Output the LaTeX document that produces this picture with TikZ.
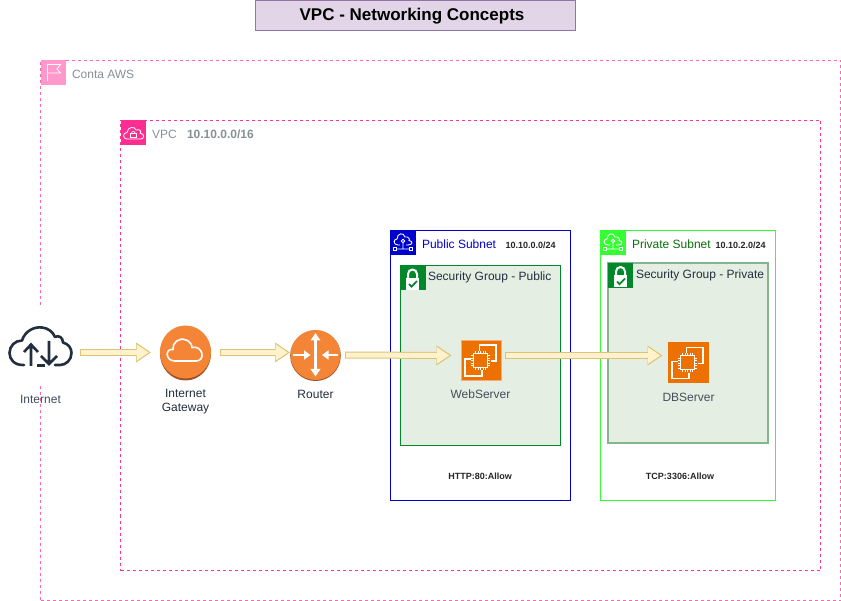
\documentclass[tikz,border=0pt]{standalone}
\usepackage{fontspec}
\setmainfont{Liberation Sans}
\usetikzlibrary{arrows.meta,calc}
\definecolor{navy}{HTML}{232F3E}
\definecolor{awsgray}{HTML}{879196}
\definecolor{sgfill}{HTML}{E4EEE2}
\definecolor{sggreen}{HTML}{00882B}
\definecolor{orangeigw}{HTML}{F58536}
\definecolor{orangedark}{HTML}{9D5025}
\definecolor{ecfill}{HTML}{ED7100}
\definecolor{ecedge}{HTML}{F5AE78}
\definecolor{flowfill}{HTML}{FFF2CC}
\definecolor{flowedge}{HTML}{DFC273}
\definecolor{titlefill}{HTML}{E1D5E7}
\definecolor{titleedge}{HTML}{9673A6}
\definecolor{contaedge}{HTML}{FF66B2}
\definecolor{contaicon}{HTML}{FF99CC}
\definecolor{vpcedge}{HTML}{FF3399}
\definecolor{vpcicon}{HTML}{FF2D92}
\definecolor{pubblue}{HTML}{0000CC}
\definecolor{privgreen}{HTML}{33FF33}
\definecolor{privtext}{HTML}{0B6E0B}
\definecolor{sgedge}{HTML}{82B78E}
\newcommand{\fs}[1]{\fontsize{#1pt}{14pt}\selectfont}
\tikzset{
  x=1pt,y=-1pt,
  every node/.style={inner sep=0pt,outer sep=0pt},
  box/.style={draw,anchor=north west,line width=1pt},
  contabox/.style={box,draw=#1,dash pattern=on 3pt off 3pt},
  iconbox/.style={anchor=north west,minimum width=25pt,minimum height=25pt,fill=#1},
  lbl/.style={anchor=center,align=center,text=navy,font=\fs{12}},
  lft/.style={anchor=west,font=\fs{12}},
  small/.style={anchor=west,font=\fs{9}\bfseries,text=black!85},
  rulelabel/.style={anchor=center,font=\fs{9}\bfseries,text=black!85},
  flowo/.style={line width=7pt,draw=flowedge,-{Triangle[length=15pt,width=19pt]},color=flowedge},
  flowi/.style={line width=5pt,draw=flowfill,-{Triangle[length=12.5pt,width=15.6pt]},color=flowfill,shorten >=2pt,shorten <=1pt},
  wl/.style={draw=white,line width=1.2pt,line join=miter},
  server/.style={anchor=north west,fill=ecfill,draw=#1,line width=1pt,minimum width=40pt,minimum height=40pt},
  pics/chip/.style={code={
    \draw[wl] (-1,-9.5) -- (-1,-15.5) -- (15.5,-15.5) -- (15.5,0.5) -- (10,0.5);
    \draw[wl] (-10,-1.5) -- (-15.5,-1.5) -- (-15.5,15.5) -- (1.5,15.5) -- (1.5,10);
    \draw[draw=white,line width=1pt] (-7,-7) rectangle (7,7);
    \foreach \t in {-5,-2.5,0,2.5,5}{
      \draw[draw=white,line width=.8pt] (\t,-9.5) -- (\t,-7);
      \draw[draw=white,line width=.8pt] (\t,7) -- (\t,9.5);
      \draw[draw=white,line width=.8pt] (-9.5,\t) -- (-7,\t);
      \draw[draw=white,line width=.8pt] (7,\t) -- (9.5,\t);
    }
  }},
  pics/lock/.style={code={
    \draw[white,line width=2pt] (-4.5,1) -- (-4.5,-4) arc[start angle=180,end angle=0,x radius=4.5,y radius=-4.5] -- (4.5,1);
    \fill[white] (-6.5,0) rectangle (6.5,12);
    \draw[sggreen,line width=1.7pt] (-3.5,6) -- (-1,8.7) -- (4.5,3);
  }},
  pics/subnet/.style={code={
    \draw[#1,line width=.9pt] (-3,2) -- (-5,2) .. controls (-10,2) and (-10,-4) .. (-6,-4) .. controls (-6,-10) and (1,-11) .. (2,-6) .. controls (6,-7) and (7,-3) .. (6,-2.5) .. controls (10,-2) and (10,2) .. (5,2) -- (3,2);
    \draw[#1,line width=.9pt] (0,-2) circle (1.8) (0,0) -- (0,6) (-6.5,6) -- (6.5,6);
    \draw[#1,line width=.9pt] (-9.5,4.5) rectangle (-6.5,7.5) (6.5,4.5) rectangle (9.5,7.5);
  }},
  routerv/.style={white,line width=2.6pt,-{Triangle[length=7.5pt,width=9.5pt]}},
  routerh/.style={white,line width=2.6pt,-{Triangle[length=6.5pt,width=9pt]}}
}
\newcommand{\flowline}[2]{%
  \draw[flowo] #1 -- #2;
  \draw[flowi] #1 -- #2;}
\begin{document}
\begin{tikzpicture}
\useasboundingbox (0,0) rectangle (841,601);
\fill[white] (0,0) rectangle (841,601);

% title
\node[box,draw=titleedge,fill=titlefill,minimum width=320pt,minimum height=30pt] (title) at (255.5,0.5) {};
\node[font=\fs{17}\bfseries,text=black] at (412,16) {VPC - Networking Concepts};

% account
\node[contabox=contaedge,minimum width=800pt,minimum height=540pt] (conta) at (40.5,60.5) {};
\node[iconbox=contaicon] (contaiconbox) at (41,60.5) {};
\draw[white,line width=.8pt] (47.5,81) -- (47.5,64.5) -- (60.5,64.5) -- (57,69) -- (60.5,73) -- (47.5,73);
\node[lft,text=awsgray] at (72,74) {Conta AWS};

% vpc
\node[contabox=vpcedge,minimum width=700pt,minimum height=450pt] (vpc) at (120.5,120.5) {};
\node[iconbox=vpcicon] (vpciconbox) at (120.5,120.5) {};
\draw[white,line width=.8pt] (127,139) .. controls (122.5,139) and (122.5,132.5) .. (127,132.5) .. controls (127.5,126.5) and (135,126) .. (136,130) .. controls (140,128.5) and (142,132) .. (140,133) .. controls (145.5,134) and (144,139) .. (141,139) -- cycle;
\draw[white,line width=.7pt] (130.5,133.5) rectangle (136,137.5);
\draw[white,line width=.7pt] (131.5,133.5) arc[start angle=180,end angle=0,x radius=1.8,y radius=-2];
\node[lft,text=awsgray] at (152,134) {VPC};
\node[lft,text=awsgray,font=\fs{12}\bfseries] at (187,134) {10.10.0.0/16};

% public subnet
\node[box,draw=pubblue,minimum width=180pt,minimum height=270pt] (pub) at (390.5,230.5) {};
\node[iconbox=pubblue] (pubicon) at (390.5,230.5) {};
\pic at (403,243) {subnet=white};
\node[lft,text=pubblue] at (422,244) {Public Subnet};
\node[small] at (505.5,245) {10.10.0.0/24};
\node[box,draw=sggreen,fill=sgfill,minimum width=160pt,minimum height=180pt] (sgpub) at (400.5,265.5) {};
\node[iconbox=sggreen] (sgpubicon) at (400.5,265.5) {};
\pic at (412.5,278) {lock};
\node[lft,text=navy] at (428,277) {Security Group - Public};

% private subnet
\node[box,draw=privgreen,minimum width=175pt,minimum height=270pt] (priv) at (600.5,230.5) {};
\node[iconbox=privgreen] (privicon) at (600.5,230.5) {};
\pic at (613,243) {subnet=white};
\node[lft,text=privtext] at (632,244) {Private Subnet};
\node[small] at (715.5,245) {10.10.2.0/24};
\node[box,draw=sgedge,line width=2pt,fill=sgfill,minimum width=160pt,minimum height=180pt] (sgpriv) at (608,263) {};
\node[iconbox=sggreen] (sgprivicon) at (608,263) {};
\pic at (620.5,275.5) {lock};
\node[lft,text=navy] at (636,275) {Security Group - Private};

% rule labels
\node[rulelabel] at (480,476) {HTTP:80:Allow};
\node[rulelabel] at (680,476) {TCP:3306:Allow};

% internet
\fill[white] (8,305) rectangle (74,385);
\node[minimum width=64pt,minimum height=42pt] (internet) at (40.5,346) {};
\draw[navy,line width=2.6pt,line cap=round,line join=round]
  (24,365) .. controls (14,365.5) and (9.5,359) .. (9.5,353) .. controls (9.5,346) and (15,340.5) .. (22,340.5)
  .. controls (25,331) and (34,326.5) .. (42,327.5) .. controls (48,328) and (53,332) .. (55,337)
  .. controls (58,335) and (63,337) .. (63,342.5) .. controls (69,344) and (71.5,349) .. (71.5,353)
  .. controls (71.5,360) and (66,365) .. (60,365) -- (55,365);
\draw[navy,line width=2.6pt,line join=miter] (24,352) -- (31,344.5) -- (38,352) (31,345) -- (31,366);
\draw[navy,line width=2.6pt,line join=miter] (41,356) -- (49,364) -- (57,356) (49,364) -- (49,341);
\draw[navy,line width=2.6pt] (37,365.5) -- (45,365.5);
\node[lbl,text=navy!85] at (40.5,399) {Internet};

% internet gateway
\fill[orangedark] (185.5,353.5) ellipse[x radius=25.5,y radius=27];
\fill[orangeigw] (185.5,352) ellipse[x radius=25.5,y radius=26.5];
\node[minimum width=51pt,minimum height=54pt] (igw) at (185.5,353) {};
\draw[white,line width=1.6pt] (175,361) .. controls (165,361) and (165,348) .. (173,349.5) .. controls (172,343) and (179,337) .. (186,340) .. controls (190,341) and (192,345) .. (192,347.5) .. controls (203,345) and (206,361) .. (196,361) -- cycle;
\node[lbl,align=center] at (185.5,402) {Internet\\Gateway};

% router
\fill[orangedark] (315.5,355.7) circle[radius=25.3];
\fill[orangeigw] (315.5,355) circle[radius=25];
\node[minimum width=51pt,minimum height=51pt] (router) at (315.5,355) {};
\draw[routerv] (315.5,355) -- (315.5,333);
\draw[routerv] (315.5,355) -- (315.5,376.5);
\draw[routerh] (293,355) -- (310.5,355);
\draw[routerh] (338,355) -- (322,355);
\node[lbl] at (315.5,394) {Router};

% servers
\node[server=ecedge] (web) at (461,340.5) {};
\pic at (480.5,360.5) {chip};
\node[lbl,text=navy!85] at (480.5,394) {WebServer};
\node[server=ecfill] (db) at (668,343) {};
\pic at (687.5,363) {chip};
\node[lbl,text=navy!85] at (688.5,397) {DBServer};

% flows
\flowline{($(internet.east)+(7.5,6.5)$)}{($(igw.west)+(-9,-.5)$)}
\flowline{($(igw.east)+(9,-.5)$)}{($(router.west)+(0,-2.5)$)}
\flowline{($(router.east)+(4,0)$)}{($(web.west)+(-9.5,-5)$)}
\flowline{($(web.east)+(4,-5)$)}{($(db.west)+(-5.5,-7.5)$)}
\end{tikzpicture}
\end{document}
